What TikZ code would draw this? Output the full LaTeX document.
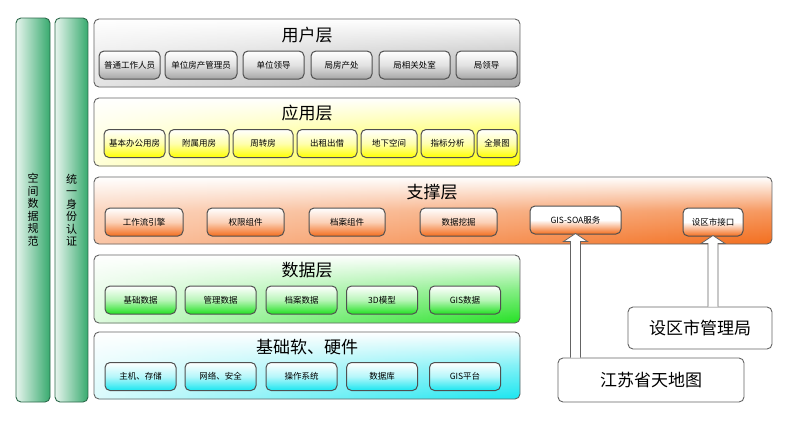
\documentclass[tikz,border=0pt]{standalone}
\usepackage{fontspec}
\setmainfont{Noto Sans CJK SC}
\usetikzlibrary{calc, fadings}
\definecolor{LayerGrey}{RGB}{165,165,165}
\definecolor{LayerYellow}{RGB}{255,255,0}
\definecolor{LayerOrange}{RGB}{243,110,30}
\definecolor{LayerGreen}{RGB}{35,225,35}
\definecolor{LayerCyan}{RGB}{25,230,240}
\definecolor{ColGreen}{RGB}{55,170,110}
\definecolor{ColEdge}{RGB}{45,105,75}
\definecolor{EdgeGrey}{RGB}{100,100,100}

% hollow block arrow from the top of #1 up to the bottom of #2
\newcommand{\upArrow}[2]{
    \coordinate (base) at (#1.north -| #2.south);
    \coordinate (tip) at ($(#2.south)+(0,-1)$);
    \draw[hollow] ($(base)+(-5,0)$) -- ($(tip)+(-5,8)$) -- ($(tip)+(-12,8)$) -- (tip)
        -- ($(tip)+(12,8)$) -- ($(tip)+(5,8)$) -- ($(base)+(5,0)$);
}

% layer panel: #1 colour, #2 #3 corners, #4 strength of the white wash on the left, #5 middle tint
\newcommand{\layerBox}[5]{
    \shade[rounded corners=5pt, top color=white, bottom color=#1, middle color=#1!#5!white] #2 rectangle #3;
    \fill[rounded corners=5pt, white, path fading=east, fill opacity=#4] #2 rectangle #3;
    \draw[layer] #2 rectangle #3;
}

\begin{document}
\begin{tikzpicture}[x=1pt, y=-1pt,
    layer/.style={draw=EdgeGrey, line width=0.9pt, rounded corners=5pt},
    title/.style={font=\fontsize{17}{20}\selectfont},
    item/.style={draw=EdgeGrey!80!black, line width=1pt, rounded corners=5pt, shading angle=45,
        top color=white, bottom color=#1, middle color=#1!32!white,
        inner sep=1pt, minimum height=28, font=\fontsize{8.5}{10}\selectfont},
    column/.style={draw=ColEdge, line width=0.9pt, rounded corners=5pt,
        left color=ColGreen!12!white, right color=ColGreen},
    source/.style={draw=EdgeGrey, line width=0.9pt, rounded corners=5pt, fill=white,
        font=\fontsize{17}{20}\selectfont},
    hollow/.style={draw=EdgeGrey, line width=0.8pt, fill=white}]

    \useasboundingbox (0,0) rectangle (790,421);

    % Side columns
    \draw[column] (16,18) rectangle (50,402);
    \draw[column] (55,18) rectangle (88,402);
    \node[align=center, font=\fontsize{11}{12.5}\selectfont] (spec) at (33,210) {空\\间\\数\\据\\规\\范};
    \node[align=center, font=\fontsize{11}{12.5}\selectfont] (auth) at (71.5,210) {统\\一\\身\\份\\认\\证};

    % Layers
    \layerBox{LayerGrey}{(94,19)}{(520,87)}{0.7}{55}
    \layerBox{LayerYellow}{(94,98)}{(520,166)}{0.85}{55}
    \layerBox{LayerOrange}{(94,177)}{(772,244)}{0.6}{70}
    \layerBox{LayerGreen}{(94,255)}{(520,323)}{0.85}{55}
    \layerBox{LayerCyan}{(94,332)}{(520,399)}{0.85}{55}

    \node[title] (user) at (307,35) {用户层};
    \node[title] (app) at (307,113) {应用层};
    \node[title] (support) at (432,192) {支撑层};
    \node[title] (data) at (307,270) {数据层};
    \node[title] (base) at (307,347) {基础软、硬件};

    % User layer items
    \foreach \n/\txt/\cx/\w in {1/普通工作人员/129.5/61, 2/单位房产管理员/201/72, 3/单位领导/273.5/61,
        4/局房产处/341.5/61, 5/局相关处室/414.5/71, 6/局领导/486.5/61}
        \node[item=LayerGrey, minimum width=\w] (u\n) at (\cx,65) {\txt};

    % Application layer items
    \foreach \n/\txt/\cx/\w in {1/基本办公用房/134.5/61, 2/附属用房/199/60, 3/周转房/263/60,
        4/出租出借/327/60, 5/地下空间/389/56, 6/指标分析/447.5/53, 7/全景图/497/40}
        \node[item=LayerYellow, minimum width=\w] (a\n) at (\cx,143.5) {\txt};

    % Support layer items
    \foreach \n/\txt/\cx/\w in {1/工作流引擎/144/78, 2/权限组件/245.5/77, 3/档案组件/347/76,
        4/数据挖掘/458.5/77}
        \node[item=LayerOrange, minimum width=\w] (s\n) at (\cx,222) {\txt};
    \node[item=LayerOrange, middle color=white, minimum width=91] (gissoa) at (575.5,220) {GIS-SOA服务};
    \node[item=LayerOrange, middle color=white, minimum width=60] (iface) at (713,222) {设区市接口};

    % Data layer items
    \foreach \n/\txt/\cx in {1/基础数据/140.5, 2/管理数据/220.5, 3/档案数据/301.5, 4/3D模型/382, 5/GIS数据/465}
        \node[item=LayerGreen, minimum width=71] (d\n) at (\cx,300) {\txt};

    % Base layer items
    \foreach \n/\txt/\cx in {1/主机、存储/140.5, 2/网络、安全/220.5, 3/操作系统/301.5, 4/数据库/382, 5/GIS平台/465}
        \node[item=LayerCyan, minimum width=71] (b\n) at (\cx,376.5) {\txt};

    % External sources
    \node[source, minimum width=144, minimum height=42] (city) at (700,328) {设区市管理局};
    \node[source, minimum width=186, minimum height=44] (tdt) at (651,380) {江苏省天地图};

    \upArrow{tdt}{gissoa}
    \upArrow{city}{iface}

\end{tikzpicture}
\end{document}
